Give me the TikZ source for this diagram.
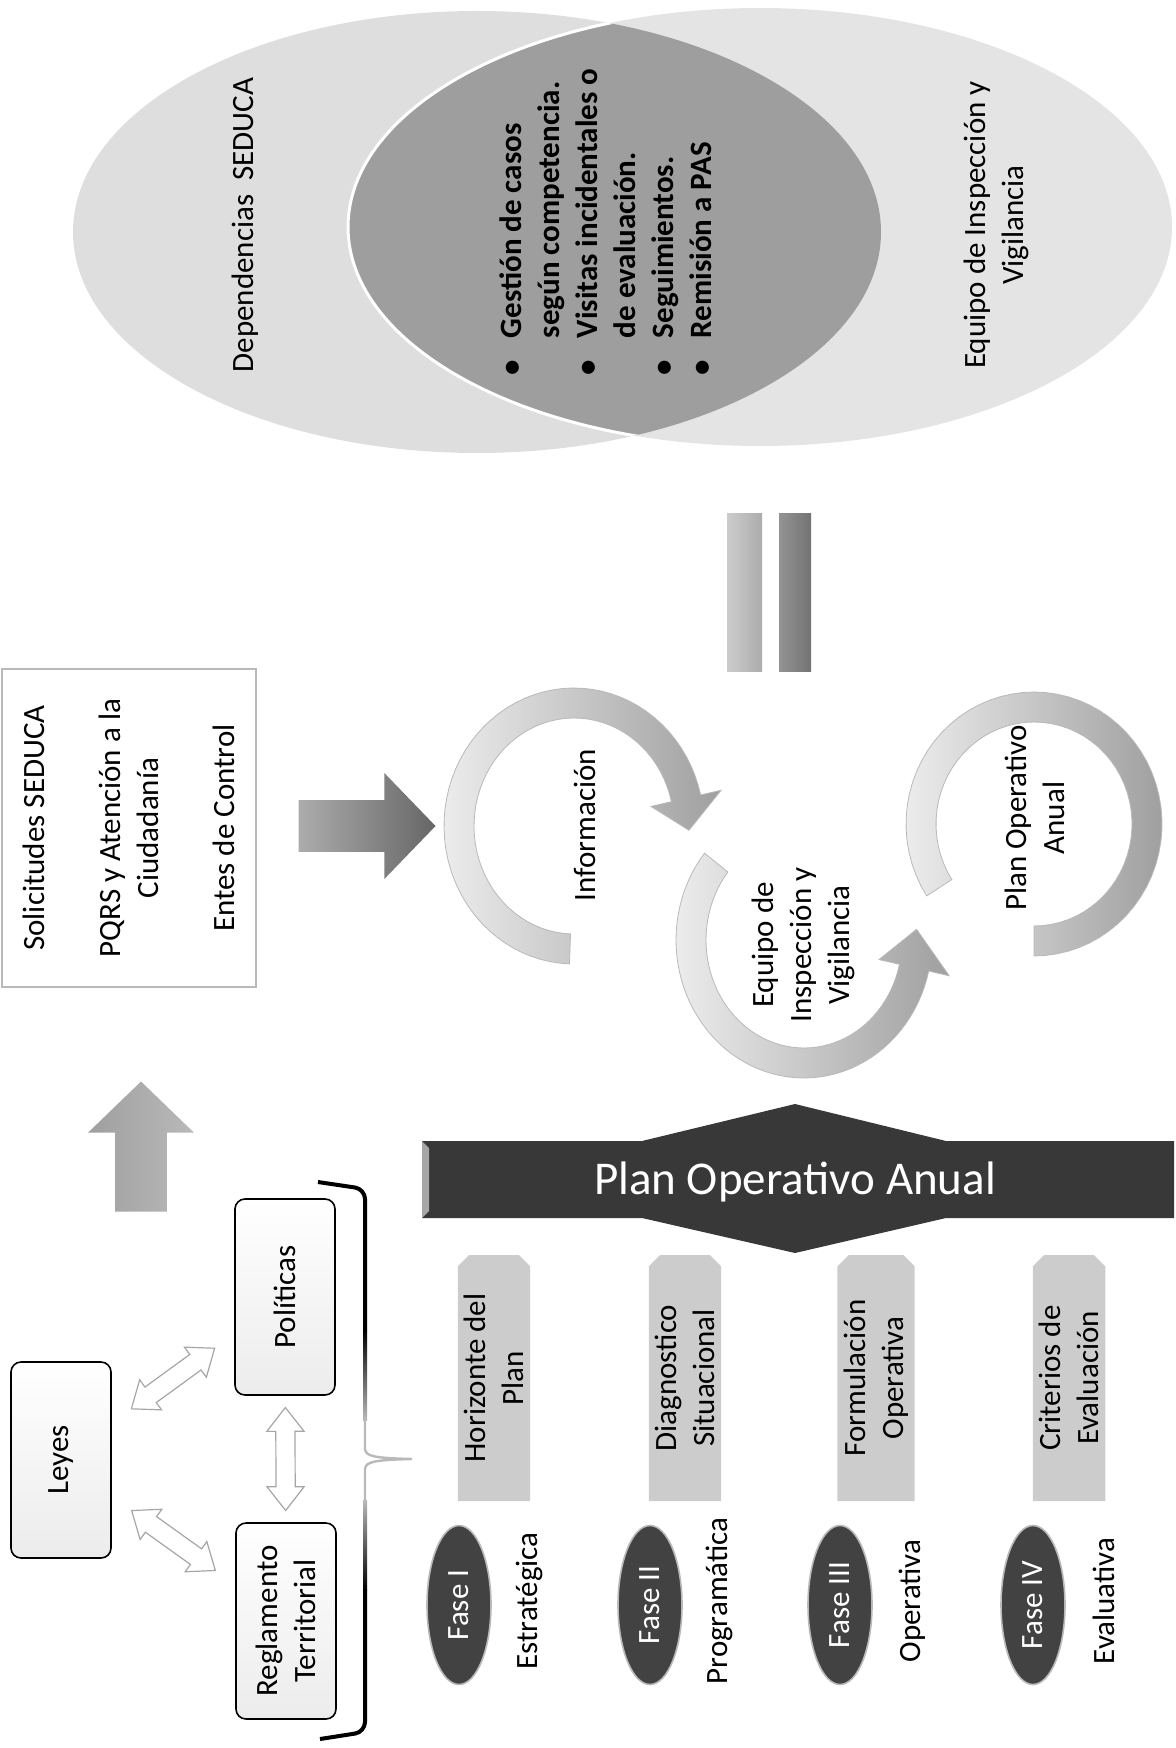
\documentclass[tikz,border=0pt]{standalone}
\usepackage{fontspec}
\setmainfont{Carlito}
\usepackage{tikz}
\usetikzlibrary{calc, shapes.geometric, shapes.arrows, shapes.misc}

\definecolor{vennlight}{gray}{0.87}
\definecolor{vennlens}{gray}{0.62}
\definecolor{bardark}{gray}{0.22}
\definecolor{phasegray}{gray}{0.80}
\definecolor{fasedark}{gray}{0.26}

\begin{document}
\begin{tikzpicture}[x=0.5pt, y=-0.5pt,
    every node/.style={font=\fontsize{15.5}{19}\selectfont, inner sep=0pt},
    vtext/.style={rotate=90, align=center},
    lawbox/.style={vtext, draw, line width=0.8pt, rounded corners=5pt, top color=white, bottom color=gray!15, minimum width=98pt, minimum height=50pt},
    phasebox/.style={vtext, chamfered rectangle, chamfered rectangle corners={north east, south east}, chamfered rectangle xsep=2.5pt, fill=phasegray, minimum width=123pt, minimum height=35pt},
    fase/.style={vtext, ellipse, fill=fasedark, draw=gray!55, line width=0.8pt, text=white, minimum width=79.5pt, minimum height=32pt},
    dblarrow/.style={double arrow, draw=gray!70, fill=white, line width=0.6pt, inner xsep=0pt, inner ysep=4.5pt, minimum width=18pt, double arrow head extend=4.5pt, double arrow tip angle=76, minimum height=51.5pt},
    bigarrow/.style={single arrow, inner xsep=0pt, inner ysep=12.75pt, minimum width=52.5pt, single arrow head extend=13.5pt, single arrow tip angle=92},
    ring/.style={left color=gray!15, right color=gray!75, draw=gray!55, line width=0.4pt}]
  \useasboundingbox (0,0) rectangle (1175,1748);

  % venn
  \fill[vennlight] (477,232) ellipse[x radius=202pt, y radius=110.5pt];
  \fill[vennlight!80!white] (760,227) ellipse[x radius=206pt, y radius=109.5pt];
  \begin{scope}
    \clip (477,232) ellipse[x radius=202pt, y radius=110.5pt];
    \fill[vennlens] (760,227) ellipse[x radius=206pt, y radius=109.5pt];
    \draw[white, line width=1.5pt] (760,227) ellipse[x radius=206pt, y radius=109.5pt];
  \end{scope}
  \node[vtext] (dep) at (245,225) {Dependencias\ \ SEDUCA};
  \node[vtext] (eqv) at (996,225) {Equipo de Inspección y\\Vigilancia};
  \node[rotate=90, anchor=west, align=left, font=\fontsize{15.5}{19}\selectfont\bfseries] (acts) at (609,376)
    {\begin{tabular}{@{}l@{\hspace{11pt}}l@{}}
      \textbullet & Gestión de casos\\
                  & según competencia.\\
      \textbullet & Visitas incidentales o\\
                  & de evaluación.\\
      \textbullet & Seguimientos.\\
      \textbullet & Remisión a PAS
    \end{tabular}};

  % equals bars
  \shade[left color=gray!40, right color=gray!65] (727,514) rectangle (762,671);
  \shade[left color=gray!85, right color=black!55] (779,514) rectangle (811,671);

  % inputs
  \node[vtext, draw=gray!55, line width=0.6pt, minimum width=159pt, minimum height=127pt] (solic) at (129,828)
    {Solicitudes SEDUCA\\[19pt]PQRS y Atención a la\\Ciudadanía\\[19pt]Entes de Control};
  \node[bigarrow, left color=gray!65, right color=black!60, minimum height=68.5pt] (rarr) at (354.5,826) {};
  \node[bigarrow, rotate=90, left color=gray!75, right color=gray!55, minimum height=65pt] (uarr) at (141,1159) {};

  % cycle
  \draw[ring] plot[domain=92:347, samples=60] ({574+130*cos(\x)}, {826+138*sin(\x)})
    -- ({574+151*cos(347)}, {826+159*sin(347)})
    -- ({574+115*cos(2)}, {826+123*sin(2)})
    -- ({574+79*cos(347)}, {826+87*sin(347)})
    -- plot[domain=92:347, samples=60] ({574+100*cos(439-\x)}, {826+108*sin(439-\x)})
    -- cycle;
  \draw[ring] plot[domain=13:219, samples=60] ({804+128*cos(232-\x)}, {940+138*sin(232-\x)})
    -- ({804+149*cos(13)}, {940+159*sin(13)})
    -- ({804+113*cos(-5)}, {940+123*sin(-5)})
    -- ({804+77*cos(13)}, {940+87*sin(13)})
    -- plot[domain=13:219, samples=60] ({804+98*cos(\x)}, {940+108*sin(\x)})
    -- cycle;
  \draw[ring] plot[domain=147:450, samples=60] ({1034+128*cos(\x)}, {824+132*sin(\x)})
    -- plot[domain=147:450, samples=60] ({1034+98*cos(597-\x)}, {824+102*sin(597-\x)})
    -- cycle;
  \node[vtext] (info) at (585,825) {Información};
  \node[vtext] (equipo) at (803,945) {Equipo de\\Inspección y\\Vigilancia};
  \node[vtext] (poaring) at (1035,818) {Plan Operativo\\Anual};

  % plan bar
  \fill[bardark] (422,1141) -- (642,1141) -- (795,1104) -- (946,1141) -- (1174,1141)
    -- (1174,1218) -- (946,1218) -- (795,1253) -- (642,1218) -- (422,1218) -- cycle;
  \fill[gray!70] (422,1141) -- (429,1148) -- (429,1211) -- (422,1218) -- cycle;
  \node[font=\fontsize{23.5}{28}\selectfont, text=white] (poa) at (795,1182) {Plan Operativo Anual};

  % legal frame
  \node[lawbox] (leyes) at (61,1460) {Leyes};
  \node[lawbox] (pol) at (285,1297) {Políticas};
  \node[lawbox] (reg) at (286,1621) {Reglamento\\Territorial};
  \path (leyes) -- (pol) node[dblarrow, sloped, midway] (lp) {};
  \path (leyes) -- (reg) node[dblarrow, sloped, midway] (lr) {};
  \path (pol) -- (reg) node[dblarrow, sloped, midway] (pr) {};
  \draw[line width=2pt, rounded corners=5pt] (318,1182) -- (365,1189) -- (365,1330);
  \shade[top color=black, bottom color=gray!55] (363,1330) rectangle (367,1420);
  \draw[gray!55, line width=1.2pt] (365,1420) -- (365,1449) .. controls (366,1456) and (372,1458) .. (412,1459)
    .. controls (372,1460) and (366,1462) .. (365,1469) -- (365,1500);
  \shade[top color=gray!55, bottom color=black] (363,1500) rectangle (367,1590);
  \draw[line width=2pt, rounded corners=5pt] (365,1590) -- (365,1732) -- (320,1739);

  % phases
  \node[phasebox] (hor) at (494,1378) {Horizonte del\\Plan};
  \node[phasebox] (diag) at (685,1378) {Diagnostico\\Situacional};
  \node[phasebox] (form) at (876,1378) {Formulación\\Operativa};
  \node[phasebox] (crit) at (1069,1378) {Criterios de\\Evaluación};
  \node[fase] (f1) at (459,1605) {Fase I};
  \node[fase] (f2) at (650,1605) {Fase II};
  \node[fase] (f3) at (840,1605) {Fase III};
  \node[fase] (f4) at (1033,1605) {Fase IV};
  \node[vtext] (l1) at (529,1601) {Estratégica};
  \node[vtext] (l2) at (719,1601) {Programática};
  \node[vtext] (l3) at (912,1601) {Operativa};
  \node[vtext] (l4) at (1104,1601) {Evaluativa};
\end{tikzpicture}
\end{document}
